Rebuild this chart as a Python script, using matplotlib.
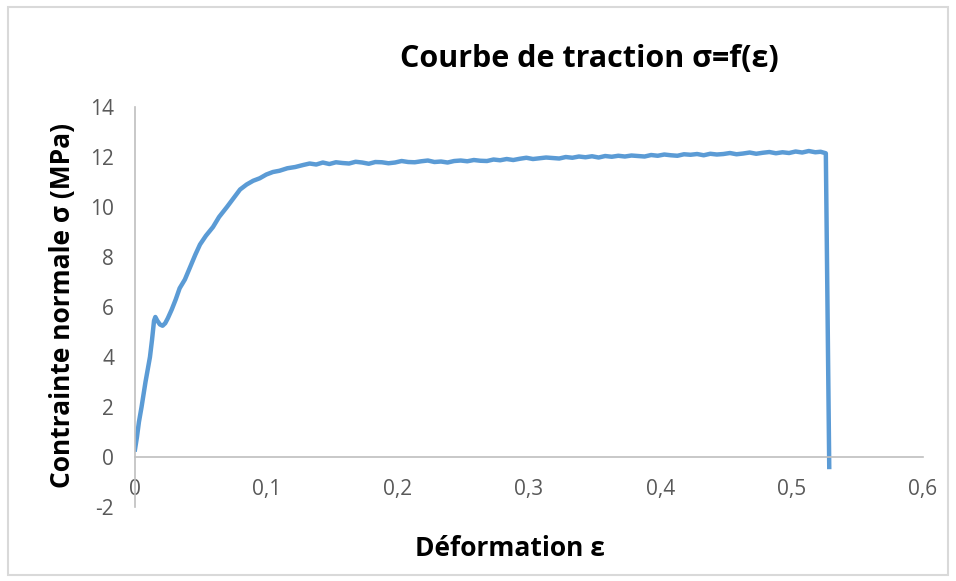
import matplotlib
matplotlib.use("Agg")
import matplotlib.pyplot as plt
from matplotlib.ticker import FuncFormatter, MultipleLocator
from matplotlib.patches import Rectangle

plt.rcParams['font.family'] = ['Open Sans', 'DejaVu Sans']
plt.rcParams['axes.unicode_minus'] = False

# Courbe de traction
eps = [0, 0.0015, 0.003, 0.005, 0.008, 0.0114, 0.013, 0.0145, 0.0155, 0.017,
       0.019, 0.021, 0.023, 0.025, 0.028, 0.031, 0.034, 0.038, 0.042, 0.046,
       0.0495, 0.054, 0.0594, 0.064, 0.070, 0.075, 0.080, 0.085, 0.090, 0.095,
       0.100, 0.105, 0.110, 0.116, 0.122, 0.128, 0.133, 0.138, 0.143,
       0.148, 0.153, 0.158, 0.163, 0.168, 0.173, 0.178, 0.183, 0.188, 0.193,
       0.198, 0.203, 0.208, 0.213, 0.218, 0.223, 0.228, 0.233, 0.238, 0.243,
       0.248, 0.253, 0.258, 0.263, 0.268, 0.273, 0.278, 0.283, 0.288, 0.293,
       0.298, 0.303, 0.308, 0.313, 0.318, 0.323, 0.328, 0.333, 0.338, 0.343,
       0.348, 0.353, 0.358, 0.363, 0.368, 0.373, 0.378, 0.383, 0.388, 0.393,
       0.398, 0.403, 0.408, 0.413, 0.418, 0.423, 0.428, 0.433, 0.438, 0.443,
       0.448, 0.453, 0.458, 0.463, 0.468, 0.473, 0.478, 0.483, 0.488, 0.493,
       0.498, 0.503, 0.508, 0.513, 0.518, 0.522, 0.526, 0.5286]
sigma = [0.3, 0.8, 1.4, 2.0, 3.0, 4.0, 4.7, 5.45, 5.6, 5.45,
         5.3, 5.25, 5.35, 5.55, 5.9, 6.3, 6.75, 7.1, 7.6, 8.1,
         8.5, 8.85, 9.2, 9.6, 10.0, 10.35, 10.7, 10.9, 11.05, 11.15,
         11.3, 11.4, 11.45, 11.55, 11.6, 11.68, 11.74, 11.7, 11.78,
         11.72, 11.79, 11.76, 11.74, 11.81, 11.78, 11.73, 11.8, 11.79, 11.75,
         11.78, 11.84, 11.8, 11.79, 11.83, 11.86, 11.8, 11.82, 11.78, 11.84,
         11.86, 11.83, 11.88, 11.85, 11.84, 11.9, 11.87, 11.92, 11.88, 11.93,
         11.97, 11.92, 11.95, 11.98, 11.96, 11.94, 12.0, 11.97, 12.02, 11.99,
         12.03, 11.98, 12.04, 12.01, 12.05, 12.02, 12.06, 12.04, 12.02, 12.08,
         12.05, 12.1, 12.07, 12.05, 12.11, 12.09, 12.12, 12.07, 12.13, 12.1,
         12.12, 12.16, 12.11, 12.14, 12.18, 12.13, 12.17, 12.2, 12.15, 12.19,
         12.16, 12.22, 12.18, 12.24, 12.19, 12.21, 12.15, -0.4]

fig = plt.figure(figsize=(9.56, 5.81), dpi=100)
ax = fig.add_axes([0.1412, 0.1274, 0.8243, 0.6884])

# cadre du graphique
fig.patches.append(Rectangle((0.008, 0.01), 0.984, 0.978, transform=fig.transFigure,
                             fill=False, edgecolor='#D9D9D9', linewidth=1.5))

ax.plot(eps, sigma, color='#5B9BD5', linewidth=3.2, solid_joinstyle='round')

ax.set_xlim(0, 0.6)
ax.set_ylim(-2, 14)
ax.xaxis.set_major_locator(MultipleLocator(0.1))
ax.yaxis.set_major_locator(MultipleLocator(2))
virgule = FuncFormatter(lambda v, p: ('%g' % round(v, 2)).replace('.', ','))
ax.xaxis.set_major_formatter(virgule)
ax.yaxis.set_major_formatter(FuncFormatter(lambda v, p: '%d' % v))

for s in ['top', 'right']:
    ax.spines[s].set_visible(False)
ax.spines['bottom'].set_position(('data', 0))
ax.spines['bottom'].set_color('#BFBFBF')
ax.spines['left'].set_color('#BFBFBF')
ax.spines['bottom'].set_linewidth(1.2)
ax.spines['left'].set_linewidth(1.2)
ax.tick_params(axis='both', length=0, labelsize=15, labelcolor='#595959')
ax.tick_params(axis='x', pad=16)
ax.tick_params(axis='y', pad=15)

ax.set_title('Courbe de traction σ=f(ε)', fontsize=22, fontweight='bold',
             x=0.577, y=1.08)
ax.set_ylabel('Contrainte normale σ (MPa)', fontsize=19, fontweight='bold')
ax.yaxis.set_label_coords(-0.075, 0.505)
ax.set_xlabel('Déformation ε', fontsize=19, fontweight='bold')
ax.xaxis.set_label_coords(0.476, -0.07)

fig.savefig('out.png', dpi=100)
